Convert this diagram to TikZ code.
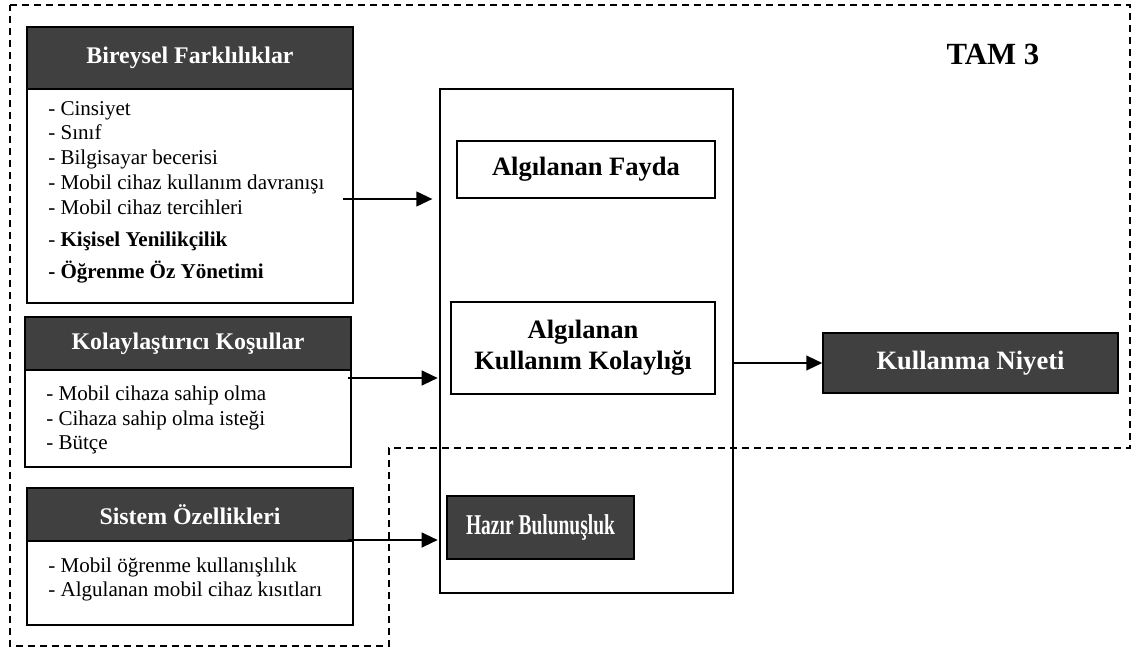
\documentclass[tikz,border=0pt]{standalone}
\usepackage{fontspec}
\usepackage{graphicx}
\setmainfont{Liberation Serif}
\usetikzlibrary{fit,arrows.meta}
\definecolor{darkbox}{HTML}{404040}
\begin{document}
\begin{tikzpicture}[x=0.75pt,y=-0.75pt,
  box/.style={draw=black, line width=1.1pt, inner sep=0pt},
  hdr/.style={box, fill=darkbox},
  hdrtxt/.style={inner sep=0pt, text=white, font=\fontsize{17.9}{21}\selectfont\bfseries},
  midtxt/.style={inner sep=0pt, font=\fontsize{19.9}{23.5}\selectfont\bfseries, align=center},
  item/.style={anchor=base west, inner sep=0pt, font=\fontsize{15.8}{18}\selectfont},
  bitem/.style={item, font=\fontsize{15.8}{18}\selectfont\bfseries},
  conn/.style={line width=1.6pt, -{Triangle[length=12pt,width=11pt]}},
  frame/.style={line width=1pt, dash pattern=on 5.5pt off 3.5pt}]
\useasboundingbox (0,0) rectangle (1137,649);

% left groups
\node[hdr, fit={(27,27) (353,89)}] (bh) {};
\node[hdrtxt] (bht) at (bh.center) {Bireysel Farklılıklar};
\node[box, fit={(27,89) (353,303)}] (bb) {};
\node[item] (b1) at (48,116) {- Cinsiyet};
\node[item] (b2) at (48,140) {- Sınıf};
\node[item] (b3) at (48,165) {- Bilgisayar becerisi};
\node[item] (b4) at (48,189) {- Mobil cihaz kullanım davranışı};
\node[item] (b5) at (48,214) {- Mobil cihaz tercihleri};
\node[item] (b6) at (48,246) {- \textbf{Kişisel Yenilikçilik}};
\node[bitem] (b7) at (48,278) {- Öğrenme Öz Yönetimi};

\node[hdr, fit={(25,317) (351,370)}] (kh) {};
\node[hdrtxt] (kht) at (kh.center) {Kolaylaştırıcı Koşullar};
\node[box, fit={(25,370) (351,467)}] (kb) {};
\node[item] (k1) at (46,400) {- Mobil cihaza sahip olma};
\node[item] (k2) at (46,425) {- Cihaza sahip olma isteği};
\node[item] (k3) at (46,449) {- Bütçe};

\node[hdr, fit={(27,488) (353,541)}] (sh) {};
\node[hdrtxt] (sht) at (sh.center) {Sistem Özellikleri};
\node[box, fit={(27,541) (353,625)}] (sb) {};
\node[item] (s1) at (48,572) {- Mobil öğrenme kullanışlılık};
\node[item] (s2) at (48,596) {- Algulanan mobil cihaz kısıtları};

% central box
\node[box, line width=1.4pt, fit={(440,89) (733,593)}] (big) {};
\node[box, fit={(457,141) (715,198)}] (pu) {};
\node[midtxt] (put) at (pu.center) {Algılanan Fayda};
\node[box, fit={(451,302) (715,394)}] (peou) {};
\node[midtxt] (peout) at (peou.center) {Algılanan\\Kullanım Kolaylığı};
\node[hdr, fit={(447,496) (634,559)}] (hb) {};
\node[inner sep=0pt, text=white] (hbt) at (hb.center)
  {\scalebox{0.68}[1]{\fontsize{21.5}{25}\selectfont\bfseries Hazır Bulunuşluk}};

% outcome
\node[hdr, fit={(823,333) (1118,393)}] (ki) {};
\node[hdrtxt, font=\fontsize{19.9}{23.5}\selectfont\bfseries] (kit) at (ki.center) {Kullanma Niyeti};

\node[anchor=base, inner sep=0pt, font=\fontsize{23.1}{27}\selectfont\bfseries] (tam) at (993,65) {TAM 3};

% connectors
\coordinate (a1) at (343,199);
\coordinate (a2) at (348,378);
\coordinate (a3) at (348,540);
\draw[conn, shorten >=5pt] (a1) -- (a1 -| big.west);
\draw[conn, shorten >=1pt] (a2) -- (a2 -| big.west);
\draw[conn, shorten >=1pt] (a3) -- (a3 -| big.west);
\draw[conn] (big.east |- ki.west) -- (ki.west);

% dashed frame
\draw[frame] (10,5) -- (1130,5) -- (1130,448) -- (389,448) -- (389,646) -- (10,646) -- cycle;
\end{tikzpicture}
\end{document}
